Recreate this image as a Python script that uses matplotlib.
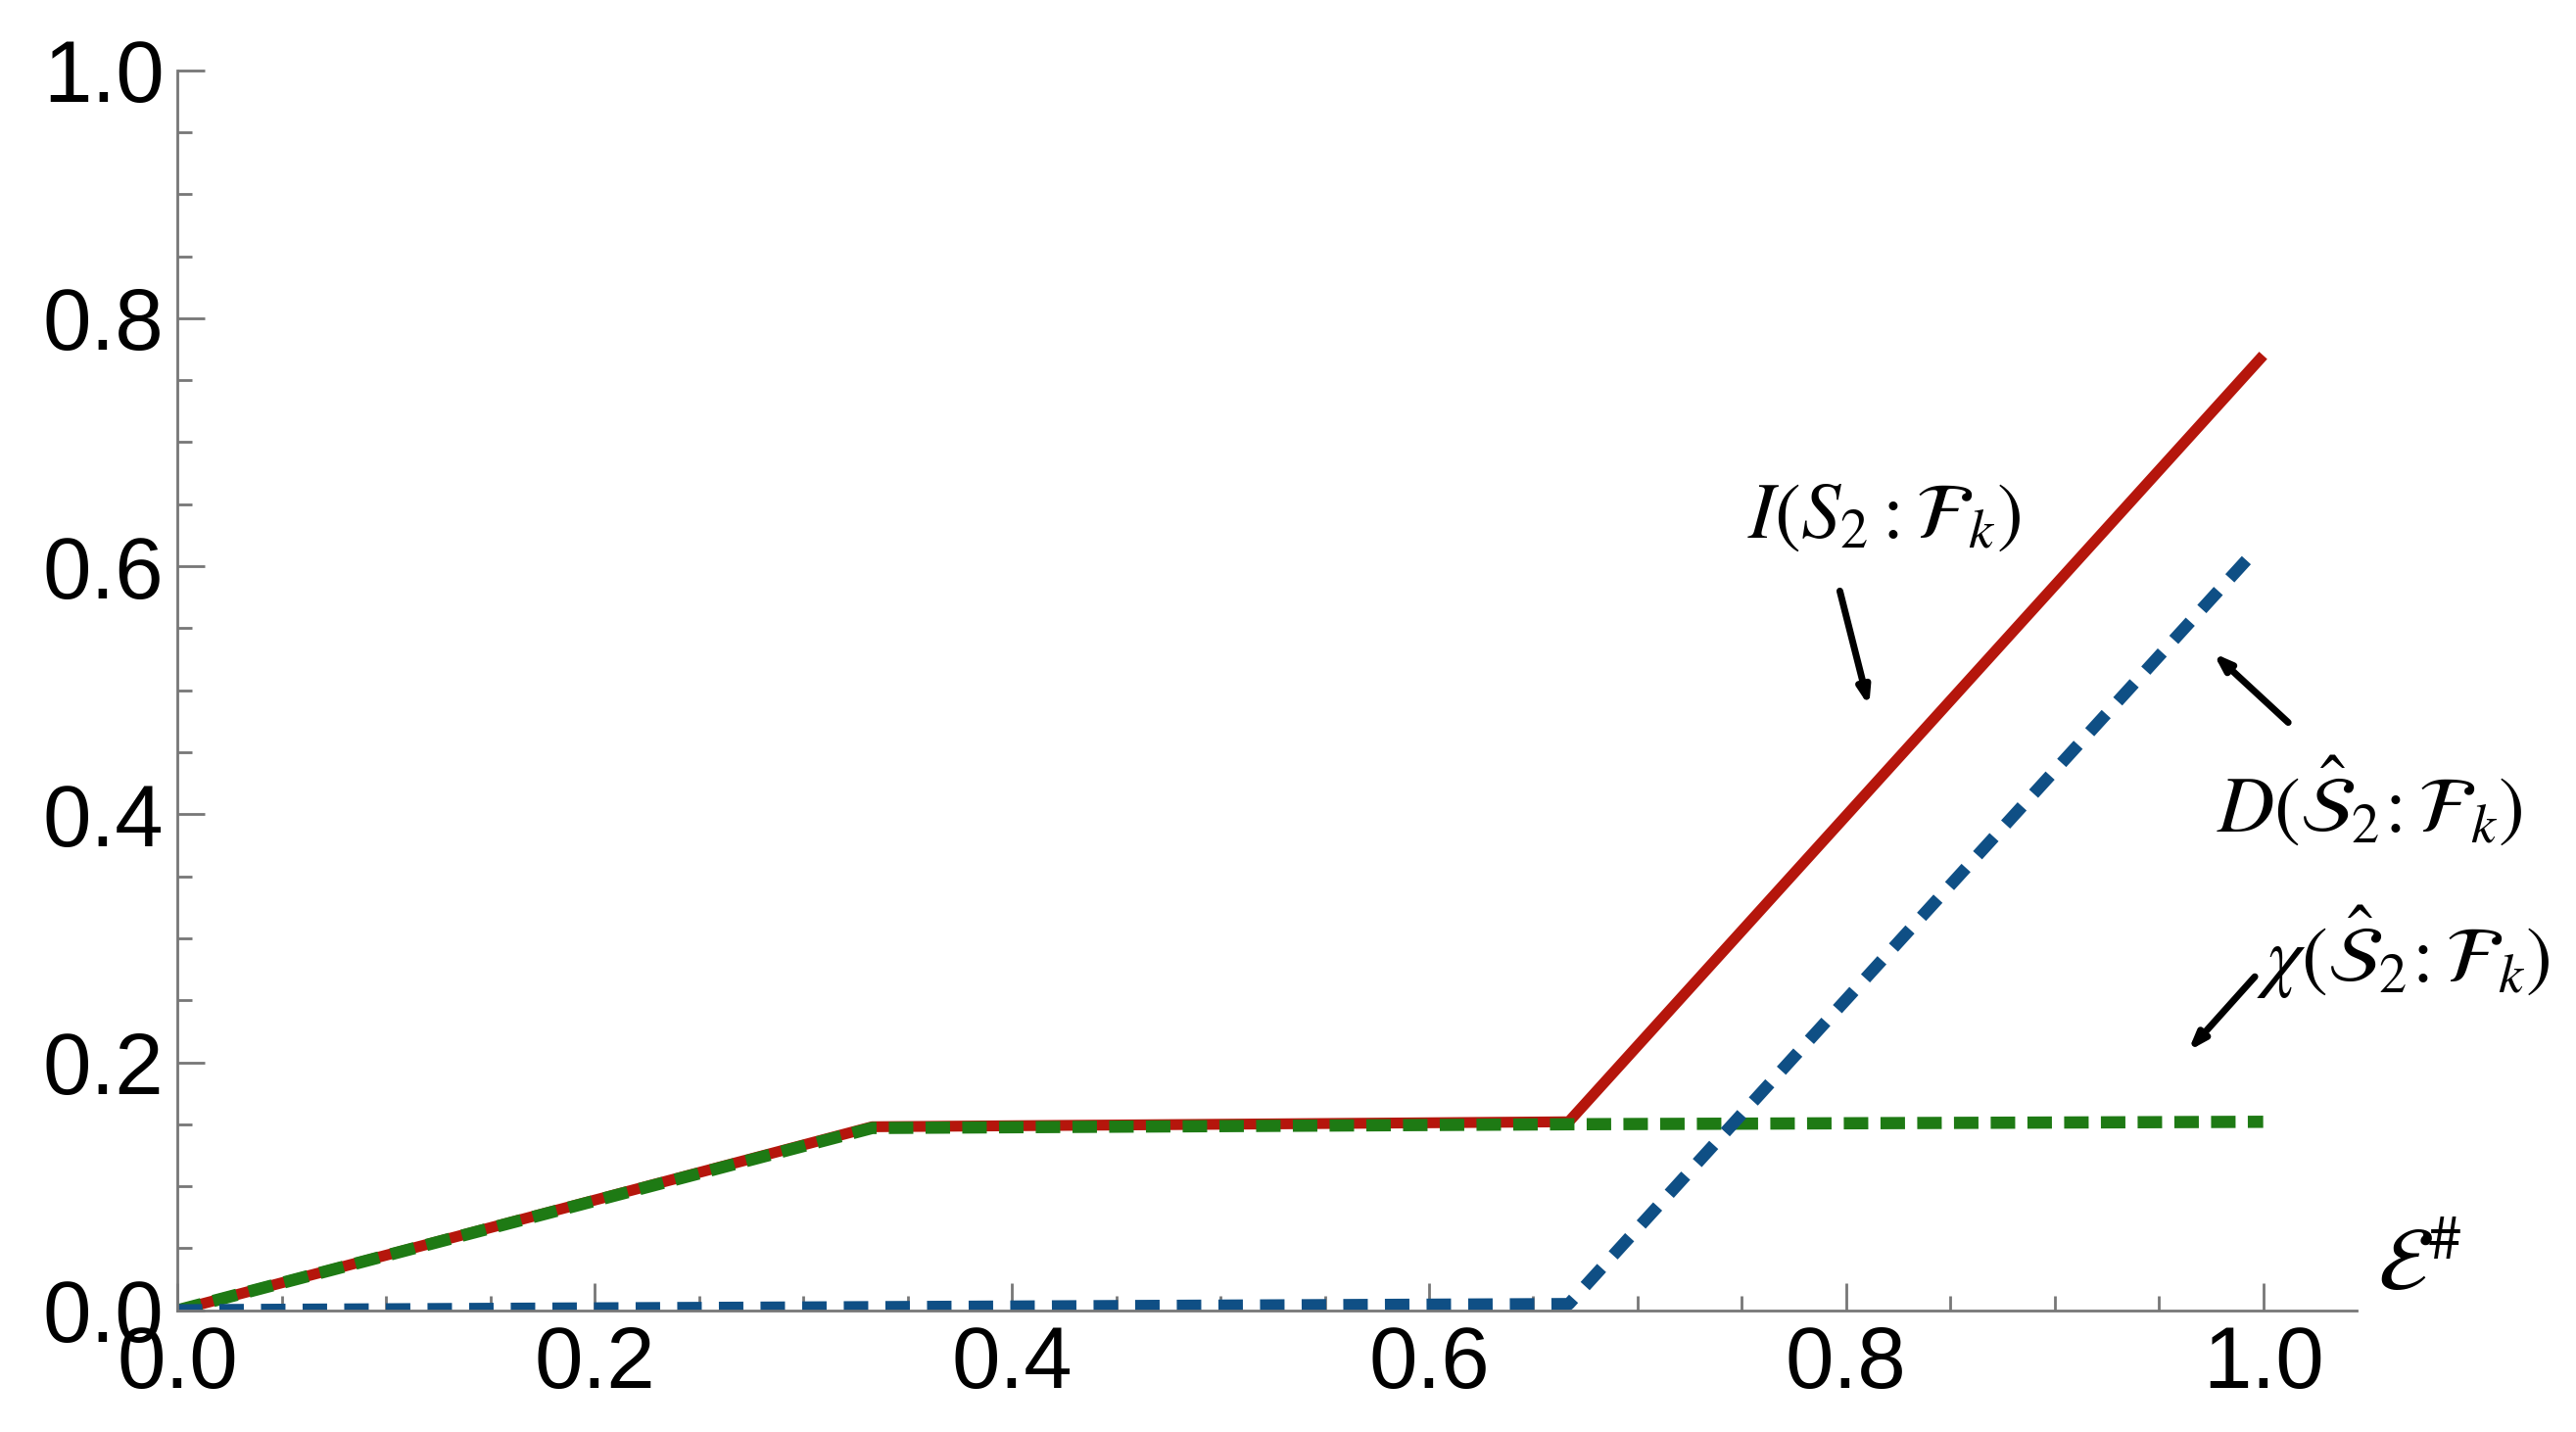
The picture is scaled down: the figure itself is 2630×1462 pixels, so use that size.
import matplotlib
matplotlib.use("Agg")
import matplotlib.pyplot as plt
from matplotlib.ticker import MultipleLocator

plt.rcParams['font.family'] = ['Liberation Sans', 'DejaVu Sans']
plt.rcParams['mathtext.fontset'] = 'stix'

red_x = [0.0, 0.333, 0.667, 1.0]
red_y = [0.0, 0.148, 0.152, 0.77]
green_x = [0.0, 0.333, 0.667, 1.0]
green_y = [0.0, 0.147, 0.150, 0.152]
blue_x = [0.0, 0.667, 0.992]
blue_y = [0.0, 0.005, 0.605]

fig = plt.figure(figsize=(26.3, 14.62), dpi=100)
ax = fig.add_axes([0.069, 0.085, 0.846, 0.866])
ax.plot(red_x, red_y, color='#b5160c', lw=8, solid_capstyle='butt')
ax.plot(green_x, green_y, color='#1e7a14', lw=9, ls=(0, (2.0, 1.0)))
ax.plot(blue_x, blue_y, color='#0f4f85', lw=9, ls=(0, (2.0, 1.4)))

ax.set_xlim(0, 1.045)
ax.set_ylim(0, 1.0)
ax.xaxis.set_major_locator(MultipleLocator(0.2))
ax.xaxis.set_minor_locator(MultipleLocator(0.05))
ax.yaxis.set_major_locator(MultipleLocator(0.2))
ax.yaxis.set_minor_locator(MultipleLocator(0.05))
ax.xaxis.set_major_formatter(plt.FuncFormatter(lambda v, p: f"{v:.1f}"))
ax.yaxis.set_major_formatter(plt.FuncFormatter(lambda v, p: f"{v:.1f}"))
for s in ['top', 'right']:
    ax.spines[s].set_visible(False)
for s in ['left', 'bottom']:
    ax.spines[s].set_color('#777777')
    ax.spines[s].set_linewidth(2)
ax.tick_params(which='both', direction='in', color='#777777', width=2)
ax.tick_params(which='major', length=20, labelsize=64, pad=10)
ax.tick_params(which='minor', length=11)

ax.text(1.075, 0.0, r'$\mathcal{E}^{\#}$', fontsize=66, ha='center', va='bottom', clip_on=False)
arrow = dict(arrowstyle='-|>,head_length=1.0,head_width=0.35', color='black', lw=5, shrinkA=0, shrinkB=0)

ax.text(0.818, 0.64, r'$I(S_2:\mathcal{F}_k)$', fontsize=58, ha='center', va='center')
ax.annotate('', xy=(0.811, 0.487), xytext=(0.797, 0.58), arrowprops=arrow)

ax.text(1.051, 0.41, r'$D(\hat{\mathcal{S}}_2\!:\mathcal{F}_k)$', fontsize=58, ha='center', va='center', clip_on=False)
ax.annotate('', xy=(0.976, 0.53), xytext=(1.012, 0.474), arrowprops=arrow, annotation_clip=False)

ax.text(1.067, 0.289, r'$\chi(\hat{\mathcal{S}}_2\!:\mathcal{F}_k)$', fontsize=58, ha='center', va='center', clip_on=False)
ax.annotate('', xy=(0.964, 0.209), xytext=(0.996, 0.269), arrowprops=arrow, annotation_clip=False)

fig.savefig('out.png', dpi=100)
